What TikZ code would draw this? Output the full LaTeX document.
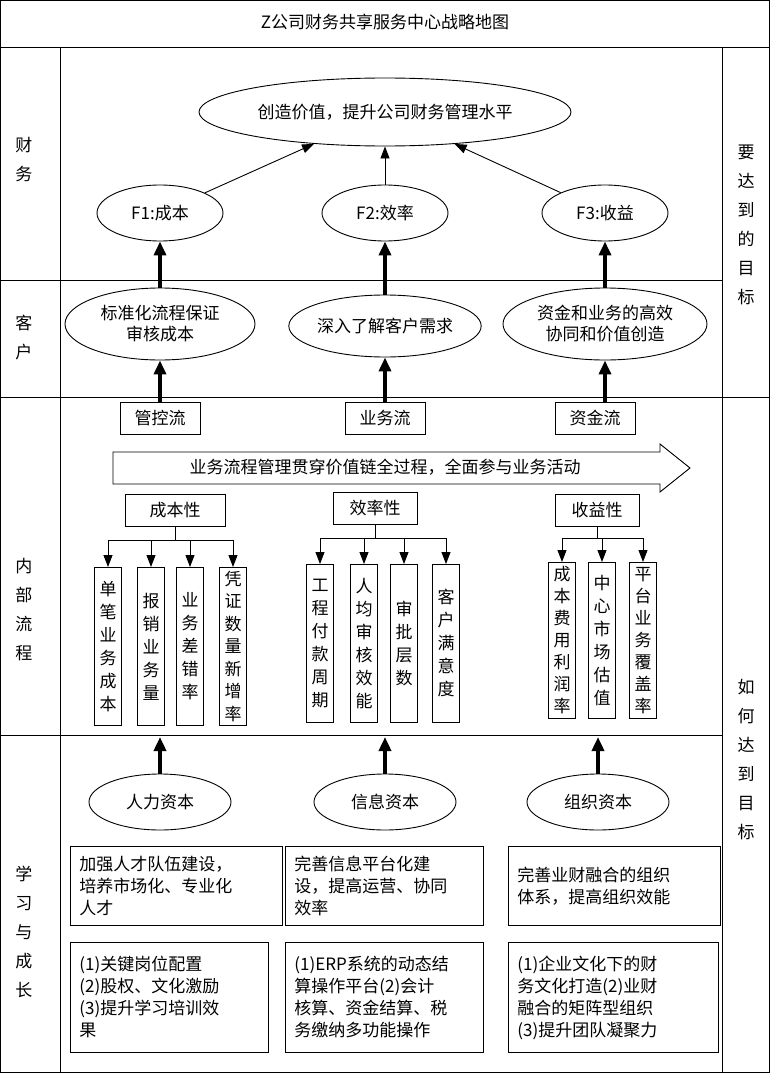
\documentclass[tikz,border=0pt]{standalone}
\usepackage{fontspec}
\setmainfont{Noto Sans CJK SC}
\usetikzlibrary{arrows.meta,shapes.geometric}
\begin{document}
\begin{tikzpicture}[x=1pt,y=-1pt,line width=0.9pt,
  every node/.style={font=\fontsize{17}{22}\selectfont},
  ell/.style={draw,ellipse,inner sep=0pt},
  bx/.style={draw,inner sep=2pt},
  vbox/.style={draw,minimum width=27pt,minimum height=158pt,anchor=north,text width=18pt,align=center,inner sep=0pt,font=\fontsize{17}{23}\selectfont},
  tbox/.style={draw,anchor=north west,align=left,inner xsep=9pt,inner ysep=5pt,font=\fontsize{17}{22}\selectfont},
  thin/.style={-{Triangle[length=12pt,width=9pt]},line width=0.9pt},
  thick/.style={-{Triangle[length=14pt,width=12pt]},line width=4pt},
  lab/.style={text width=18pt,align=center,font=\fontsize{17}{29}\selectfont}]
\useasboundingbox (0,0) rectangle (770,1073);
\draw (0.5,0.5) rectangle (769.5,1072.5);
\draw (0,47) -- (770,47);
\draw (60,47) -- (60,1073);
\draw (722,47) -- (722,1073);
\draw (0,280) -- (722,280);
\draw (0,397) -- (770,397);
\draw (0,735) -- (722,735);
\node (title) at (385,22) {Z公司财务共享服务中心战略地图};
\node[lab] (l1) at (24,160) {财\\务};
\node[lab] (l2) at (24,338) {客\\户};
\node[lab] (l3) at (24,610) {内\\部\\流\\程};
\node[lab] (l4) at (24,932) {学\\习\\与\\成\\长};
\node[lab] (r1) at (746,225) {要\\达\\到\\的\\目\\标};
\node[lab] (r2) at (746,760) {如\\何\\达\\到\\目\\标};
% finance
\node[ell,minimum width=372pt,minimum height=68pt] (top) at (385,112) {创造价值，提升公司财务管理水平};
\node[ell,minimum width=126pt,minimum height=56pt] (f1) at (160,213) {F1:成本};
\node[ell,minimum width=126pt,minimum height=56pt] (f2) at (385,213) {F2:效率};
\node[ell,minimum width=126pt,minimum height=56pt] (f3) at (605,213) {F3:收益};
\draw[thin] (f1) -- (top);
\draw[thin] (f2) -- (top);
\draw[thin] (f3) -- (top);
% customer
\node[ell,minimum width=190pt,minimum height=72pt,align=center,font=\fontsize{17}{21}\selectfont] (c1) at (160,324) {标准化流程保证\\审核成本};
\node[ell,minimum width=186pt,minimum height=62pt] (c2) at (385,326) {深入了解客户需求};
\node[ell,minimum width=204pt,minimum height=72pt,align=center,font=\fontsize{17}{21}\selectfont] (c3) at (605,324) {资金和业务的高效\\协同和价值创造};
\draw[thick] (c1) -- (f1);
\draw[thick] (c2) -- (f2);
\draw[thick] (c3) -- (f3);
% flows
\node[bx,minimum width=80pt,minimum height=32pt] (g1) at (160,418) {管控流};
\node[bx,minimum width=80pt,minimum height=32pt] (g2) at (385,418) {业务流};
\node[bx,minimum width=80pt,minimum height=32pt] (g3) at (595,418) {资金流};
\draw[thick] (g1) -- (c1);
\draw[thick] (g2) -- (c2);
\draw[thick] (g3.north -| c3) -- (c3);
\draw (113,452) -- (660,452) -- (660,444) -- (690,468) -- (660,492) -- (660,484) -- (113,484) -- cycle;
\node (chain) at (385,467) {业务流程管理贯穿价值链全过程，全面参与业务活动};
% categories
\node[bx,minimum width=100pt,minimum height=32pt] (k1) at (175,510) {成本性};
\node[bx,minimum width=84pt,minimum height=32pt] (k2) at (375,508) {效率性};
\node[bx,minimum width=84pt,minimum height=32pt] (k3) at (597,510) {收益性};
\node[vbox] (a1) at (108,567) {单\\笔\\业\\务\\成\\本};
\node[vbox] (a2) at (151,567) {报\\销\\业\\务\\量};
\node[vbox] (a3) at (190,567) {业\\务\\差\\错\\率};
\node[vbox,font=\fontsize{17}{22.5}\selectfont] (a4) at (233,567) {凭\\证\\数\\量\\新\\增\\率};
\node[vbox] (b1) at (320,564) {工\\程\\付\\款\\周\\期};
\node[vbox] (b2) at (364,564) {人\\均\\审\\核\\效\\能};
\node[vbox] (b3) at (404,564) {审\\批\\层\\数};
\node[vbox] (b4) at (446,564) {客\\户\\满\\意\\度};
\node[vbox,minimum height=156pt,font=\fontsize{17}{22}\selectfont] (d1) at (562,562) {成\\本\\费\\用\\利\\润\\率};
\node[vbox,minimum height=156pt] (d2) at (602,562) {中\\心\\市\\场\\估\\值};
\node[vbox,minimum height=156pt,font=\fontsize{17}{22}\selectfont] (d3) at (643,562) {平\\台\\业\\务\\覆\\盖\\率};
\coordinate (j1) at (175,540);
\coordinate (j2) at (375,538);
\coordinate (j3) at (597,538);
\draw (k1.south) -- (j1);
\draw (k2.south) -- (j2);
\draw (k3.south) -- (j3);
\foreach \n in {a1,a2,a3,a4} \draw[thin] (j1 -| \n) -- (\n.north);
\draw (j1 -| a1) -- (j1 -| a4);
\foreach \n in {b1,b2,b3,b4} \draw[thin] (j2 -| \n) -- (\n.north);
\draw (j2 -| b1) -- (j2 -| b4);
\foreach \n in {d1,d2,d3} \draw[thin] (j3 -| \n) -- (\n.north);
\draw (j3 -| d1) -- (j3 -| d3);
% learning
\node[ell,minimum width=142pt,minimum height=56pt] (e1) at (160,802) {人力资本};
\node[ell,minimum width=142pt,minimum height=56pt] (e2) at (385,802) {信息资本};
\node[ell,minimum width=142pt,minimum height=56pt] (e3) at (598,802) {组织资本};
\coordinate (t1) at (160,737);
\coordinate (t2) at (385,737);
\coordinate (t3) at (598,737);
\draw[thick] (e1) -- (t1);
\draw[thick] (e2) -- (t2);
\draw[thick] (e3) -- (t3);
\node[tbox,text width=194pt,minimum height=79pt] (m1) at (70,846) {加强人才队伍建设，\\培养市场化、专业化\\人才};
\node[tbox,text width=180pt,minimum height=79pt] (m2) at (285,846) {完善信息平台化建\\设，提高运营、协同\\效率};
\node[tbox,text width=194pt,minimum height=79pt] (m3) at (508,846) {完善业财融合的组织\\体系，提高组织效能};
\node[tbox,text width=180pt,minimum height=110pt] (n1) at (70,942) {(1)关键岗位配置\\(2)股权、文化激励\\(3)提升学习培训效\\果};
\node[tbox,text width=180pt,minimum height=110pt] (n2) at (285,942) {(1)ERP系统的动态结\\算操作平台(2)会计\\核算、资金结算、税\\务缴纳多功能操作};
\node[tbox,text width=192pt,minimum height=110pt] (n3) at (508,942) {(1)企业文化下的财\\务文化打造(2)业财\\融合的矩阵型组织\\(3)提升团队凝聚力};
\end{tikzpicture}
\end{document}
